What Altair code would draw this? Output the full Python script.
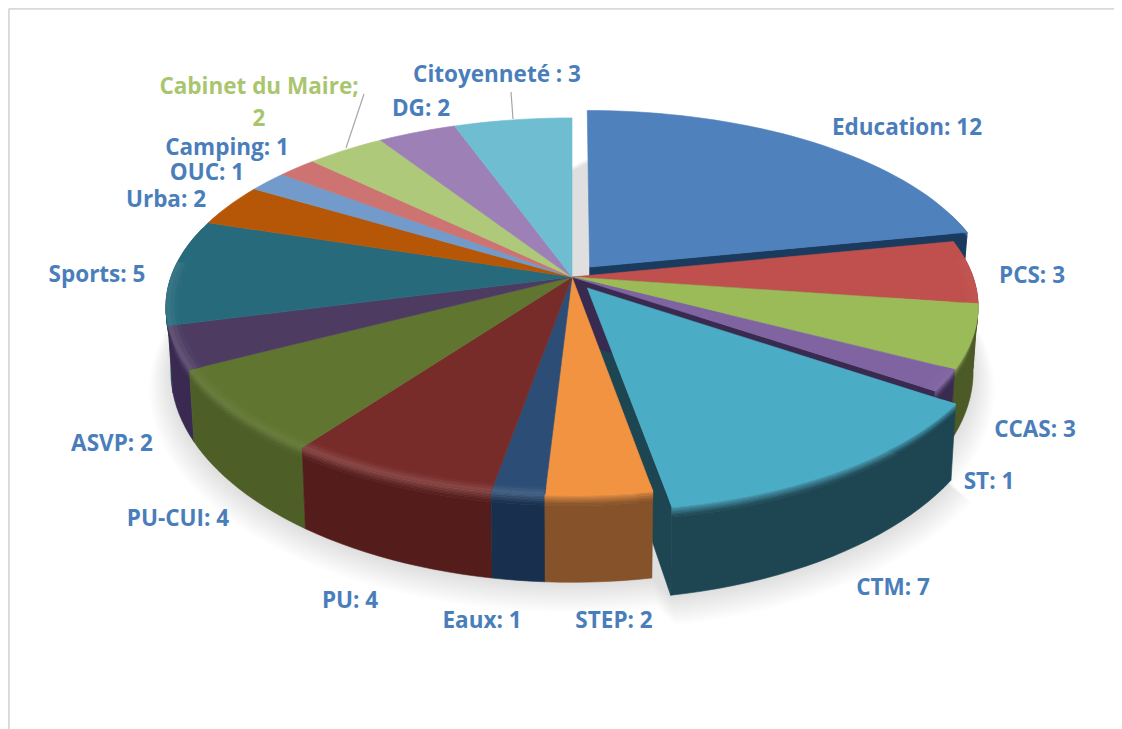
import math
import altair as alt

names = ["Education", "PCS", "CCAS", "ST", "CTM", "STEP", "Eaux", "PU", "PU-CUI", "ASVP",
         "Sports", "Urba", "OUC", "Camping", "Cabinet du Maire", "DG", "Citoyenneté"]
values = [12, 3, 3, 1, 7, 2, 1, 4, 4, 2, 5, 2, 1, 1, 2, 2, 3]
top_colors = ["#4F81BD", "#C0504D", "#9BBB59", "#8064A2", "#4BACC6", "#F29342", "#2C4D75", "#772C2A",
              "#5F7530", "#4D3B62", "#276A7C", "#B65708", "#729ACA", "#CD7371", "#AFC97A", "#9D80B5", "#6FBDD1"]
side_colors = ["#1A3A5E", "#6E2624", "#4B5A26", "#392A50", "#1E4552", "#85522A", "#18304E", "#541D1B",
               "#4D5E26", "#3A2A52", "#1C5060", "#7E3E08", "#4A6E9A", "#8E4A48", "#7A8F4E", "#6A5585", "#3E8296"]
exploded = ["Education", "CTM"]

label_texts = ["Education: 12", "PCS: 3", "CCAS: 3", "ST: 1", "CTM: 7", "STEP: 2", "Eaux: 1", "PU: 4",
               "PU-CUI: 4", "ASVP: 2", "Sports: 5", "Urba: 2", "OUC: 1", "Camping: 1", "DG: 2", "Citoyenneté : 3"]
label_x = [907, 1032, 1035, 989, 893, 614, 482, 350, 178, 112, 97, 166, 207, 227, 421, 497]
label_y = [128, 276, 430, 482, 588, 621, 621, 601, 519, 444, 275, 200, 173, 148, 109, 75]
cab_texts = ["Cabinet du Maire;", "2"]
cab_x = [259, 259]
cab_y = [87, 119]
leader = [(511, 92, 513, 119), (364, 94, 346, 148)]

CX, CY, RX, RY, K, EXPL, DEPTH, SHRINK = 572, 277, 401, 184, 0.1565, 0.07, 62, 0.988
OX, OY = 8, 8


def hex2rgb(h):
    return [int(h[i:i + 2], 16) for i in (1, 3, 5)]


def blend(a, b, t):
    ra, rb = hex2rgb(a), hex2rgb(b)
    return "#%02x%02x%02x" % tuple(round(ra[i] + (rb[i] - ra[i]) * t) for i in range(3))


def highlight(c):
    r, g, b = hex2rgb(c)
    lum = (0.3 * r + 0.59 * g + 0.11 * b) / 255
    return max(0.0, 0.5 - lum) * 0.6


def proj(a, r=1.0, z=0.0, off=(0.0, 0.0)):
    u = r * math.sin(a) + off[0]
    v = -r * math.cos(a) + off[1]
    s = 1 / (1 - K * v)
    sh = 1 - (1 - SHRINK) * z
    return [CX + RX * u * s * sh - OX, CY + RY * v * s + DEPTH * s * s * z - OY]


def poly(pts, col, opacity=1.0, stroke=True):
    ring = [list(p) for p in pts] + [list(pts[0])]
    return {"type": "Feature", "geometry": {"type": "Polygon", "coordinates": [ring]},
            "properties": {"col": col, "op": opacity, "sw": 0.6 if stroke else 0}}


total = sum(values)
slices = []
acc = 0
for n, val, tc, sc in zip(names, values, top_colors, side_colors):
    a0 = acc / total * 2 * math.pi
    acc += val
    a1 = acc / total * 2 * math.pi
    mid = (a0 + a1) / 2
    off = (EXPL * math.sin(mid), -EXPL * math.cos(mid)) if n in exploded else (0.0, 0.0)
    slices.append(dict(name=n, a0=a0, a1=a1, off=off, top=tc, side=sc))


def arc_angles(a0, a1):
    k = max(2, int((a1 - a0) / math.radians(2)) + 1)
    return [a0 + (a1 - a0) * i / k for i in range(k + 1)]


def shadow():
    out = []
    n = 16
    for i in range(n):
        sc = 1.0 + i * 0.0035
        pts = []
        for s in slices:
            for a in arc_angles(s["a0"], s["a1"]):
                p = proj(a, sc, 1, s["off"])
                pts.append([p[0], p[1] + 2 + i * 0.85])
        out.append(poly(pts, "#000000", 0.008, stroke=False))
    return out


Z_BANDS = [0, 0.015, 0.03, 0.05, 0.07, 0.09, 0.12, 1.0]
R_BANDS = [0.97, 0.98, 0.99, 1.0]


def visible_span(s, vmin):
    return [a for a in arc_angles(s["a0"], s["a1"]) if -math.cos(a) >= vmin]


def side(s):
    out = []
    ang = visible_span(s, -0.3)
    if len(ang) < 2:
        return out
    base = s["side"]
    rim = blend(s["top"], "#ffffff", highlight(s["top"]))
    for j in range(len(Z_BANDS) - 1):
        z0, z1 = Z_BANDS[j], Z_BANDS[j + 1]
        t = (j + 0.5) / (len(Z_BANDS) - 2)
        col = base if j == len(Z_BANDS) - 2 else blend(rim, base, min(1, t))
        out.append(poly([proj(a, 1, z0, s["off"]) for a in ang] +
                        [proj(a, 1, z1, s["off"]) for a in reversed(ang)], col))
    return out


def wall(s, a):
    o = s["off"]
    return [poly([proj(a, 0, 0, o), proj(a, 1, 0, o), proj(a, 1, 1, o), proj(a, 0, 1, o)], s["side"])]


def top(s):
    o = s["off"]
    ang = arc_angles(s["a0"], s["a1"])
    h = highlight(s["top"])
    out = [poly([proj(0, 0, 0, o)] + [proj(a, 1, 0, o) for a in ang], s["top"])]
    front = visible_span(s, -0.1)
    if len(front) >= 2:
        for j in range(len(R_BANDS) - 1):
            col = blend(s["top"], "#ffffff", h * (j + 0.5) / (len(R_BANDS) - 1))
            out.append(poly([proj(a, R_BANDS[j], 0, o) for a in front] +
                            [proj(a, R_BANDS[j + 1], 0, o) for a in reversed(front)], col))
    return out


features = shadow()
plain = [s for s in slices if s["name"] not in exploded]
edu = next(s for s in slices if s["name"] == "Education")
ctm = next(s for s in slices if s["name"] == "CTM")
st = next(s for s in slices if s["name"] == "ST")

# walls seen through the gaps are painted before the neighbouring slices
features += wall(edu, edu["a1"]) + side(edu)
features += wall(ctm, ctm["a1"]) + wall(st, st["a1"])
for s in sorted(plain, key=lambda s: -math.cos((s["a0"] + s["a1"]) / 2)):
    features += side(s)
for s in plain:
    features += top(s)
features += top(edu)
features += side(ctm) + top(ctm)

pie = (alt.Chart(alt.Data(values=features))
       .mark_geoshape(strokeJoin="round")
       .encode(fill=alt.Fill("properties.col:N", scale=None, legend=None),
               stroke=alt.Stroke("properties.col:N", scale=None, legend=None),
               strokeWidth=alt.StrokeWidth("properties.sw:Q", scale=None, legend=None),
               opacity=alt.Opacity("properties.op:Q", scale=None, legend=None))
       .project(type="identity", scale=1, translate=[0, 0]))

FONT, SIZE = "Open Sans", 22.5

lab = (alt.Chart(alt.Data(values=[{"t": t, "x": x - OX, "y": y - OY}
                                  for t, x, y in zip(label_texts, label_x, label_y)]))
       .mark_text(font=FONT, fontWeight="bold", fontSize=SIZE, color="#4A7EBB", align="center", baseline="middle")
       .encode(x=alt.X("x:Q", scale=None, axis=None), y=alt.Y("y:Q", scale=None, axis=None), text="t:N"))

cab = (alt.Chart(alt.Data(values=[{"t": t, "x": x - OX, "y": y - OY}
                                  for t, x, y in zip(cab_texts, cab_x, cab_y)]))
       .mark_text(font=FONT, fontWeight="bold", fontSize=SIZE, color="#A9C66F", align="center", baseline="middle")
       .encode(x=alt.X("x:Q", scale=None, axis=None), y=alt.Y("y:Q", scale=None, axis=None), text="t:N"))

lead = (alt.Chart(alt.Data(values=[{"x": a - OX, "y": b - OY, "x2": c - OX, "y2": d - OY} for a, b, c, d in leader]))
        .mark_rule(color="#A6A6A6", strokeWidth=1.2)
        .encode(x=alt.X("x:Q", scale=None, axis=None), y=alt.Y("y:Q", scale=None, axis=None),
                x2="x2:Q", y2="y2:Q"))

frame_rows = [{"x": 0.8, "y": 0.8, "x2": 1107, "y2": 0.8}, {"x": 0.8, "y": 0.8, "x2": 0.8, "y2": 721}]
frame = (alt.Chart(alt.Data(values=frame_rows))
         .mark_rule(color="#D9D9D9", strokeWidth=2)
         .encode(x=alt.X("x:Q", scale=None, axis=None), y=alt.Y("y:Q", scale=None, axis=None),
                 x2="x2:Q", y2="y2:Q"))

chart = (alt.layer(frame, pie, lead, lab, cab)
         .properties(width=1106, height=721, padding=0, autosize=alt.AutoSizeParams(type="none"))
         .configure_view(stroke=None))

chart.save("out.html", embed_options={"renderer": "svg", "actions": False})
